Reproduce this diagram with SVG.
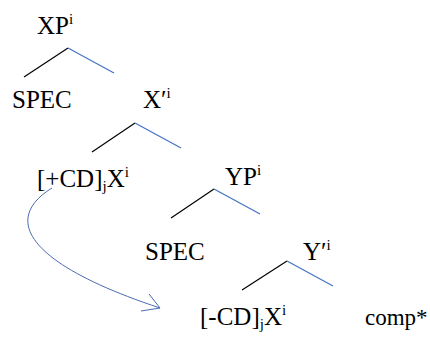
<svg xmlns="http://www.w3.org/2000/svg" width="430" height="340" viewBox="0 0 430 340">
<style>
text{font-family:"Liberation Serif","Times New Roman","DejaVu Serif",serif;font-size:25px;fill:#000}
text.c{font-size:23px}
.sup{font-size:15px}
.k{stroke:#000;stroke-width:1.2;fill:none}
.b{stroke:#4472C4;stroke-width:1.2;fill:none}
.arr{stroke:#4a6bb0;stroke-width:1;fill:none}
</style>
<rect width="430" height="340" fill="#fff"/>
<g id="connectors">
<line class="k" x1="24" y1="77" x2="68" y2="48"/><line class="b" x1="68" y1="48" x2="114" y2="73"/>
<line class="k" x1="92" y1="152" x2="135" y2="123"/><line class="b" x1="135" y1="123" x2="181" y2="148"/>
<line class="k" x1="171" y1="218" x2="214" y2="189"/><line class="b" x1="214" y1="189" x2="260" y2="214"/>
<line class="k" x1="242" y1="290" x2="287" y2="261"/><line class="b" x1="287" y1="261" x2="333" y2="286"/>
<path class="arr" d="M52,188 C0,220 30,265 160,308"/>
<polyline class="arr" points="149,294 160,308 141,311"/>
</g>
<g id="XP"><text x="37" y="34">XP<tspan class="sup" dy="-10">i</tspan></text></g>
<g id="SPEC1"><text x="12" y="108">SPEC</text></g>
<g id="Xbar"><text x="143" y="108">X′<tspan class="sup" dy="-10">i</tspan></text></g>
<g id="plusCD"><text x="37" y="187">[+CD]<tspan class="sup" dy="4">j</tspan><tspan dy="-4">X</tspan><tspan class="sup" dy="-10">i</tspan></text></g>
<g id="YP"><text x="225" y="185">YP<tspan class="sup" dy="-10">i</tspan></text></g>
<g id="SPEC2"><text x="145" y="260">SPEC</text></g>
<g id="Ybar"><text x="303" y="260">Y′<tspan class="sup" dy="-10">i</tspan></text></g>
<g id="minusCD"><text x="200" y="325">[-CD]<tspan class="sup" dy="4">j</tspan><tspan dy="-4">X</tspan><tspan class="sup" dy="-10">i</tspan></text></g>
<g id="comp"><text class="c" x="365" y="325">comp*</text></g>
</svg>
